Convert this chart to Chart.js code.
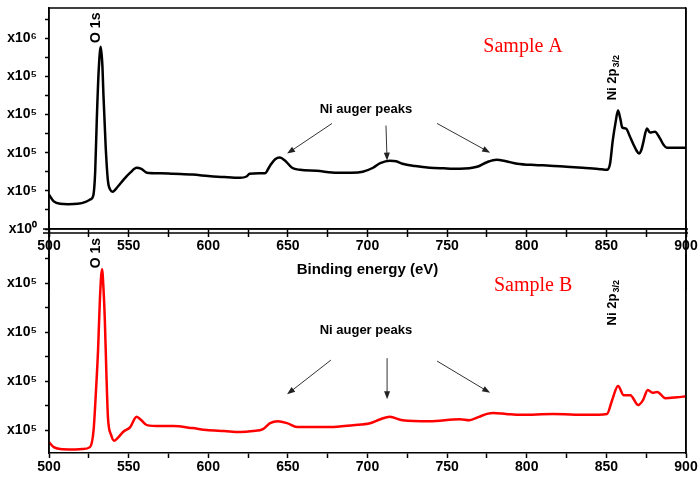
<!DOCTYPE html>
<html>
<head>
<meta charset="utf-8">
<script src="https://cdn.jsdelivr.net/npm/chart.js@4.4.0/dist/chart.umd.min.js"></script>
<style>
  html, body { margin: 0; background: #fff; }
  #wrap { position: relative; width: 699px; height: 479px; overflow: hidden; }
  #topBox { position: absolute; left: 0; top: 0; width: 699px; height: 290px; }
  #botBox { position: absolute; left: 0; top: 220px; width: 699px; height: 259px; }
</style>
</head>
<body>
<div id="wrap">
  <div id="botBox"><canvas id="spectrumB"></canvas></div>
  <div id="topBox"><canvas id="spectrumA"></canvas></div>
</div>
<script>
// survey spectra, counts in units of 1e5
const energyA = [500, 503, 507, 512, 518, 523, 526, 527.8, 529, 530, 531.2, 532.5, 533.5, 534.2, 535.6, 537,
  538.5, 540, 543, 547, 551, 555, 558, 561.5, 570, 578, 590, 600, 610, 620, 624, 626, 632, 635.6, 638.8,
  642, 645, 648, 652.6, 657.6, 668, 681, 690, 697, 703.5, 708, 714, 718, 722, 730, 739, 748, 758, 768.8,
  775, 781, 787, 794, 805, 814.6, 825, 835, 845, 850.4, 852.3, 854, 855.8, 857.3, 858.7, 860, 862.4,
  864.5, 866.8, 869, 870.5, 872, 873, 875.5, 877.4, 880.5, 883.7, 886, 888, 894, 900];
const countsA = [1.80, 1.45, 1.32, 1.30, 1.32, 1.42, 1.55, 1.75, 3.0, 5.7, 8.3, 9.55, 8.6, 7.0, 4.3, 2.53,
  2.05, 1.95, 2.2, 2.6, 2.95, 3.21, 3.15, 2.95, 2.92, 2.89, 2.85, 2.78, 2.72, 2.68, 2.75, 2.89, 2.92, 2.92, 3.32,
  3.65, 3.74, 3.6, 3.21, 3.1, 3.05, 2.95, 2.95, 3.0, 3.21, 3.45, 3.58, 3.55, 3.42, 3.3, 3.21, 3.18, 3.16, 3.26,
  3.5, 3.63, 3.55, 3.42, 3.35, 3.32, 3.26, 3.21, 3.15, 3.1, 3.42, 4.63, 5.6, 6.21, 5.8, 5.32, 5.26,
  4.9, 4.47, 4.1, 3.95, 4.15, 4.47, 5.26, 5.05, 5.1, 4.74, 4.4, 4.26, 4.26, 4.26];

const energyB = [500, 503, 507, 515, 521, 525.7, 528, 529.5, 530.8, 532, 533.3, 534.2, 535, 536, 537, 539,
  541, 543.5, 546.5, 551, 555, 558, 561.5, 570, 578, 590, 599, 610, 620, 628, 634.4, 638.8, 643.8, 649.5,
  655.8, 665, 676.5, 691, 701.6, 708, 714, 722, 739, 758, 764, 770, 775, 779, 787, 796, 816.5, 838, 850.4,
  853.6, 857.3, 861, 865, 870, 873, 876, 879, 882, 887, 894.4, 900];
const countsB = [0.75, 0.65, 0.61, 0.60, 0.61, 0.65, 1.0, 1.8, 2.63, 3.7, 4.29, 3.9, 3.31, 2.2, 1.27, 0.9,
  0.78, 0.85, 0.96, 1.06, 1.27, 1.2, 1.1, 1.08, 1.08, 1.04, 1.0, 0.98, 0.96, 0.98, 1.02, 1.14, 1.18, 1.14,
  1.06, 1.06, 1.06, 1.1, 1.14, 1.22, 1.27, 1.2, 1.18, 1.22, 1.2, 1.27, 1.33, 1.35, 1.33, 1.31, 1.33, 1.31, 1.33,
  1.61, 1.9, 1.71, 1.71, 1.51, 1.61, 1.82, 1.76, 1.78, 1.65, 1.67, 1.69];

const xLabelled = [500, 550, 600, 650, 700, 750, 800, 850, 900];
const yMajorA = [0, 2, 4, 6, 8, 10];
const yLabelA = ['x10\u2070', 'x10\u2075', 'x10\u2075', 'x10\u2075', 'x10\u2075', 'x10\u2076'];
const yMajorB = [1, 2, 3, 4];
const yLabelB = ['x10\u2075', 'x10\u2075', 'x10\u2075', 'x10\u2075'];

const SANS = 'Liberation Sans, Arial, sans-serif';
const SERIF = 'Liberation Serif, Times New Roman, serif';
const tickFont = {family: SANS, weight: 'bold', size: 14};

// top line, side lines carried on past the area so both panels share one box
function makeFrame(id, cfg) {
  return {
    id: id,
    afterDraw(chart) {
      const {ctx, chartArea: a} = chart;
      ctx.save();
      ctx.strokeStyle = '#000';
      ctx.lineWidth = 1.5;
      ctx.beginPath();
      if (cfg.topLine) { ctx.moveTo(a.left, a.top); ctx.lineTo(a.right, a.top); }
      const y0 = cfg.sideFromCanvas ? 0 : a.top;
      const y1 = cfg.sideToCanvas ? chart.height : a.bottom;
      ctx.moveTo(a.left, y0); ctx.lineTo(a.left, y1);
      ctx.moveTo(a.right, y0); ctx.lineTo(a.right, y1);
      if (cfg.doubleBase) {
        ctx.moveTo(a.left - 6, a.bottom); ctx.lineTo(a.right + 2, a.bottom);
        ctx.moveTo(a.left - 6, a.bottom + 4); ctx.lineTo(a.right + 2, a.bottom + 4);
      }
      ctx.stroke();
      ctx.restore();
    }
  };
}

function drawArrow(ctx, x1, y1, x2, y2) {
  const ang = Math.atan2(y2 - y1, x2 - x1);
  const c = Math.cos(ang), s = Math.sin(ang);
  ctx.beginPath();
  ctx.moveTo(x1, y1);
  ctx.lineTo(x2 - 6 * c, y2 - 6 * s);
  ctx.stroke();
  ctx.beginPath();
  ctx.moveTo(x2, y2);
  ctx.lineTo(x2 - 8 * c + 3 * s, y2 - 8 * s - 3 * c);
  ctx.lineTo(x2 - 8 * c - 3 * s, y2 - 8 * s + 3 * c);
  ctx.closePath();
  ctx.fill();
}

// peak labels and arrows, placed in data coordinates
function makeNotes(id, items) {
  return {
    id: id,
    afterDraw(chart) {
      const {ctx, scales: {x, y}} = chart;
      ctx.save();
      for (const n of items) {
        const px = x.getPixelForValue(n.x);
        const py = y.getPixelForValue(n.y);
        if (n.type === 'arrow') {
          ctx.strokeStyle = '#333';
          ctx.fillStyle = '#222';
          ctx.lineWidth = 1;
          drawArrow(ctx, px, py, x.getPixelForValue(n.x2), y.getPixelForValue(n.y2));
          continue;
        }
        ctx.save();
        ctx.fillStyle = n.color || '#000';
        ctx.font = n.font;
        ctx.translate(px, py);
        if (n.rotate) {
          // reads bottom to top, starting at the anchor
          ctx.rotate(-Math.PI / 2);
          ctx.textAlign = 'left';
          ctx.textBaseline = 'middle';
          ctx.fillText(n.text, 0, 0);
          if (n.sub) {
            const w = ctx.measureText(n.text).width;
            ctx.font = n.subFont;
            ctx.fillText(n.sub, w + 1, 4);
          }
        } else {
          ctx.textAlign = 'center';
          ctx.textBaseline = 'middle';
          ctx.fillText(n.text, 0, 0);
        }
        ctx.restore();
      }
      ctx.restore();
    }
  };
}

function xScale(withTitle, height) {
  return {
    type: 'linear',
    min: 500,
    max: 900,
    afterBuildTicks: s => {
      const t = [];
      for (let v = 500; v <= 900; v += 25) t.push({value: v});
      s.ticks = t;
    },
    afterFit: s => { s.height = height; s.paddingLeft = 0; s.paddingRight = 0; },
    ticks: {
      font: tickFont,
      color: '#000',
      padding: 1,
      maxRotation: 0,
      autoSkip: false,
      callback: v => xLabelled.includes(v) ? String(v) : ''
    },
    grid: {drawOnChartArea: false, tickLength: withTitle ? 8 : 5, tickColor: '#000', tickWidth: 1.5},
    border: {color: '#000', width: 1.5},
    title: {
      display: withTitle,
      text: 'Binding energy (eV)',
      color: '#000',
      font: {family: SANS, weight: 'bold', size: 15},
      padding: {top: 0, bottom: 11}
    }
  };
}

function yScale(min, max, tickVals, majors, labels) {
  return {
    min: min,
    max: max,
    afterFit: s => { s.width = 49; s.paddingTop = 0; s.paddingBottom = 0; },
    afterBuildTicks: s => { s.ticks = tickVals.map(v => ({value: v})); },
    ticks: {
      font: tickFont,
      color: '#000',
      padding: 8,
      autoSkip: false,
      callback: v => {
        const i = majors.indexOf(v);
        return i >= 0 ? labels[i] : '';
      }
    },
    grid: {drawOnChartArea: false, tickLength: 4, tickColor: '#000', tickWidth: 1.5},
    border: {color: '#000', width: 1.5}
  };
}

// bare right-hand axis, only its border line is shown
function rightEdge(min, max) {
  return {
    position: 'right',
    min: min,
    max: max,
    afterFit: s => { s.width = 0; s.paddingTop = 0; s.paddingBottom = 0; },
    ticks: {display: false},
    grid: {display: true, drawOnChartArea: false, drawTicks: false},
    border: {display: true, color: '#000', width: 1.5}
  };
}

function toPoints(xs, ys) {
  return xs.map((e, i) => ({x: e, y: ys[i]}));
}

const notesA = [
  {text: 'O 1s', x: 529.5, y: 9.75, rotate: true, font: 'bold 14px ' + SANS},
  {text: 'Sample A', x: 797.7, y: 9.53, color: '#ff0000', font: '20px ' + SERIF},
  {text: 'Ni auger peaks', x: 699, y: 6.26, font: 'bold 13px ' + SANS},
  {text: 'Ni 2p', sub: '3/2', x: 853.6, y: 6.74, rotate: true, font: 'bold 13px ' + SANS, subFont: 'bold 9px ' + SANS},
  {type: 'arrow', x: 677.7, y: 5.53, x2: 649.5, y2: 3.95},
  {type: 'arrow', x: 711.6, y: 5.42, x2: 712.3, y2: 3.58},
  {type: 'arrow', x: 743.7, y: 5.53, x2: 777, y2: 4.0}
];

const notesB = [
  {text: 'O 1s', x: 529.5, y: 4.31, rotate: true, font: 'bold 14px ' + SANS},
  {text: 'Sample B', x: 804, y: 3.96, color: '#ff0000', font: '20px ' + SERIF},
  {text: 'Ni auger peaks', x: 699, y: 3.04, font: 'bold 13px ' + SANS},
  {text: 'Ni 2p', sub: '3/2', x: 854, y: 3.14, rotate: true, font: 'bold 13px ' + SANS, subFont: 'bold 9px ' + SANS},
  {type: 'arrow', x: 677, y: 2.43, x2: 649.5, y2: 1.73},
  {type: 'arrow', x: 712.3, y: 2.47, x2: 712.3, y2: 1.63},
  {type: 'arrow', x: 743.7, y: 2.41, x2: 777, y2: 1.76}
];

new Chart(document.getElementById('spectrumA'), {
  type: 'line',
  data: {
    datasets: [{
      data: toPoints(energyA, countsA),
      borderColor: '#000',
      borderWidth: 2.5,
      pointRadius: 0,
      cubicInterpolationMode: 'monotone'
    }]
  },
  options: {
    responsive: true,
    maintainAspectRatio: false,
    animation: false,
    layout: {padding: {top: 8, right: 13, left: 0, bottom: 0}},
    scales: {
      x: xScale(true, 61),
      y: yScale(0, 11.58, [0, 1, 2, 3, 4, 5, 6, 7, 8, 9, 10, 11], yMajorA, yLabelA),
      yRight: rightEdge(0, 11.58)
    },
    plugins: {legend: {display: false}, tooltip: {enabled: false}}
  },
  plugins: [
    makeFrame('frameA', {topLine: true, sideFromCanvas: false, sideToCanvas: true, doubleBase: true}),
    makeNotes('notesA', notesA)
  ]
});

new Chart(document.getElementById('spectrumB'), {
  type: 'line',
  data: {
    datasets: [{
      data: toPoints(energyB, countsB),
      borderColor: '#ff0000',
      borderWidth: 2.5,
      pointRadius: 0,
      cubicInterpolationMode: 'monotone'
    }]
  },
  options: {
    responsive: true,
    maintainAspectRatio: false,
    animation: false,
    layout: {padding: {top: 35, right: 13, left: 0, bottom: 0}},
    scales: {
      x: xScale(false, 26),
      y: yScale(0.53, 4.58, [1, 1.5, 2, 2.5, 3, 3.5, 4, 4.5], yMajorB, yLabelB),
      yRight: rightEdge(0.53, 4.58)
    },
    plugins: {legend: {display: false}, tooltip: {enabled: false}}
  },
  plugins: [
    makeFrame('frameB', {topLine: false, sideFromCanvas: true, sideToCanvas: false, doubleBase: false}),
    makeNotes('notesB', notesB)
  ]
});
</script>
</body>
</html>
